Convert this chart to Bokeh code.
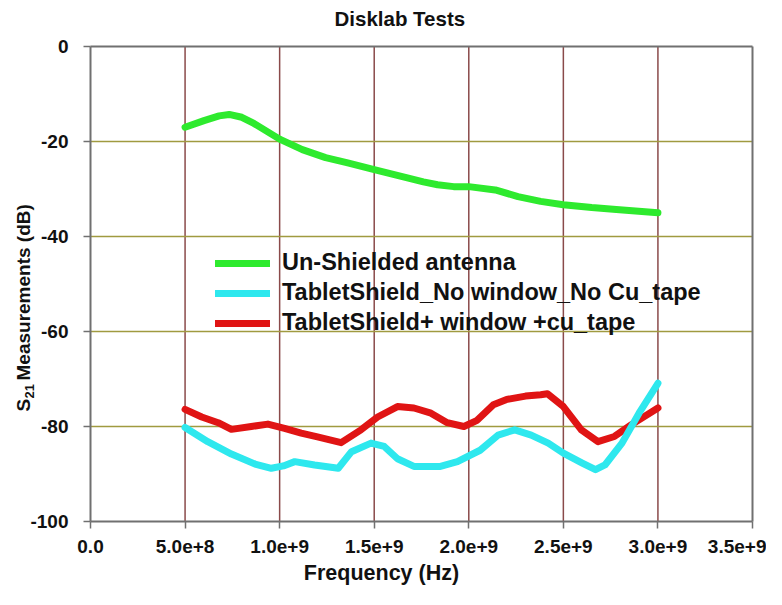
import math
from bokeh.plotting import figure
from bokeh.models import FixedTicker, Legend, LegendItem, Label
from bokeh.embed import file_html
from bokeh.resources import INLINE

# ---- data ----
green_f = [0.5e9, 0.6e9, 0.68e9, 0.733e9, 0.8e9, 0.864e9, 1.0e9, 1.12e9, 1.243e9, 1.36e9,
           1.5e9, 1.67e9, 1.76e9, 1.835e9, 1.92e9, 2.0e9, 2.14e9, 2.26e9, 2.38e9, 2.5e9,
           2.65e9, 2.78e9, 3.0e9]
green_db = [-17.0, -15.6, -14.6, -14.3, -14.9, -16.2, -19.5, -21.7, -23.4, -24.5,
            -25.9, -27.6, -28.5, -29.1, -29.5, -29.5, -30.2, -31.6, -32.6, -33.3,
            -33.9, -34.3, -35.0]

cyan_f = [0.5e9, 0.62e9, 0.745e9, 0.87e9, 0.956e9, 1.02e9, 1.08e9, 1.185e9, 1.31e9, 1.38e9,
          1.483e9, 1.553e9, 1.623e9, 1.71e9, 1.85e9, 1.94e9, 2.06e9, 2.155e9, 2.243e9,
          2.33e9, 2.42e9, 2.5e9, 2.6e9, 2.67e9, 2.72e9, 2.81e9, 2.9e9, 3.0e9]
cyan_db = [-80.2, -83.2, -85.8, -87.9, -88.8, -88.3, -87.4, -88.1, -88.8, -85.3,
           -83.5, -84.2, -86.8, -88.4, -88.4, -87.4, -85.0, -81.8, -80.7,
           -81.8, -83.5, -85.6, -87.7, -89.1, -88.1, -83.5, -77.2, -70.9]

red_f = [0.5e9, 0.588e9, 0.675e9, 0.745e9, 0.85e9, 0.938e9, 1.026e9, 1.114e9, 1.2e9, 1.325e9,
         1.43e9, 1.518e9, 1.623e9, 1.71e9, 1.8e9, 1.886e9, 1.974e9, 2.044e9, 2.13e9,
         2.2e9, 2.3e9, 2.38e9, 2.416e9, 2.5e9, 2.595e9, 2.683e9, 2.77e9, 2.86e9, 3.0e9]
red_db = [-76.4, -78.0, -79.2, -80.6, -80.0, -79.5, -80.4, -81.4, -82.2, -83.4,
          -80.7, -78.0, -75.8, -76.1, -77.2, -79.2, -80.0, -78.7, -75.4,
          -74.3, -73.6, -73.3, -73.1, -75.8, -80.7, -83.2, -82.1, -79.6, -76.1]

series_names = ["Un-Shielded antenna", "TabletShield_No window_No Cu_tape",
                "TabletShield+ window +cu_tape"]
title_text = "Disklab Tests"
x_title = "Frequency (Hz)"

x_ticks = [0, 0.5e9, 1.0e9, 1.5e9, 2.0e9, 2.5e9, 3.0e9, 3.5e9]
x_tick_labels = ["0.0", "5.0e+8", "1.0e+9", "1.5e+9", "2.0e+9", "2.5e+9", "3.0e+9", "3.5e+9"]
y_ticks = [0, -20, -40, -60, -80, -100]
y_tick_labels = ["0", "-20", "-40", "-60", "-80", "-100"]
x_grid = [0.5e9, 1.0e9, 1.5e9, 2.0e9, 2.5e9, 3.0e9]
y_grid = [-20, -40, -60, -80]
X_MIN, X_MAX, Y_MIN, Y_MAX = 0, 3.5e9, -100, 0

FONT = "Liberation Sans"
TXT = "#111111"
AXIS = "#707070"

# The frame fills the whole figure; the plotting area (0..3.5e9, -100..0)
# sits inside it so that all titles can be real text labels.
W, H = 766, 589
PAD_L, PAD_R, PAD_T, PAD_B = 90, 14, 46, 68
x_span = (X_MAX - X_MIN) / (W - PAD_L - PAD_R)
y_span = (Y_MAX - Y_MIN) / (H - PAD_T - PAD_B)
x_range = (X_MIN - PAD_L * x_span, X_MAX + PAD_R * x_span)
y_range = (Y_MIN - PAD_B * y_span, Y_MAX + PAD_T * y_span)

p = figure(width=W, height=H, min_border=0,
           x_range=x_range, y_range=y_range,
           output_backend="svg", toolbar_location=None)

p.outline_line_color = None
p.background_fill_color = "white"
p.border_fill_color = "white"
p.grid.visible = False

# grid lines, only over the plotting area
p.segment(x0=x_grid, y0=[Y_MIN] * len(x_grid), x1=x_grid, y1=[Y_MAX] * len(x_grid),
          line_color="#8a4a4a", line_width=1.5)
p.segment(x0=[X_MIN] * len(y_grid), y0=y_grid, x1=[X_MAX] * len(y_grid), y1=y_grid,
          line_color="#a09a40", line_width=1.5)
# top and right border of the plotting area
p.segment(x0=[X_MIN, X_MAX], y0=[Y_MAX, Y_MIN], x1=[X_MAX, X_MAX], y1=[Y_MAX, Y_MAX],
          line_color=AXIS, line_width=2)

# axes, pinned to the plotting area
p.xaxis.ticker = FixedTicker(ticks=x_ticks)
p.xaxis.major_label_overrides = {t: l for t, l in zip(x_ticks, x_tick_labels)}
p.xaxis.bounds = (X_MIN, X_MAX)
p.xaxis.fixed_location = Y_MIN
p.yaxis.ticker = FixedTicker(ticks=y_ticks)
p.yaxis.major_label_overrides = {t: l for t, l in zip(y_ticks, y_tick_labels)}
p.yaxis.bounds = (Y_MIN, Y_MAX)
p.yaxis.fixed_location = X_MIN
for ax in (p.xaxis[0], p.yaxis[0]):
    ax.axis_line_color = AXIS
    ax.axis_line_width = 2
    ax.major_tick_line_color = AXIS
    ax.major_tick_line_width = 1.5
    ax.major_tick_in = 0
    ax.major_tick_out = 7
    ax.minor_tick_line_color = None
    ax.major_label_text_font = FONT
    ax.major_label_text_font_size = "19px"
    ax.major_label_text_font_style = "bold"
    ax.major_label_text_color = TXT
p.xaxis.major_label_standoff = 11
p.yaxis.major_label_standoff = 15

# texts (frame-relative pixels)
txt = dict(x_units="screen", y_units="screen", text_font=FONT,
           text_font_style="bold", text_color=TXT)
p.add_layout(Label(x=334, y=571, text=title_text, text_font_size="20.5px",
                   text_align="left", text_baseline="alphabetic", **txt))
p.add_layout(Label(x=381, y=17, text=x_title, text_font_size="21.5px",
                   text_align="center", text_baseline="alphabetic", **txt))
rot = dict(angle=math.pi / 2, text_align="left", text_baseline="middle", **txt)
p.add_layout(Label(x=23, y=178, text="S", text_font_size="19px", **rot))
p.add_layout(Label(x=29, y=191, text="21", text_font_size="13px", **rot))
p.add_layout(Label(x=23, y=209, text="Measurements (dB)", text_font_size="19px", **rot))

# curves
g = p.line(green_f, green_db, line_color="#2eea2e", line_width=7, line_join="round", line_cap="round")
r = p.line(red_f, red_db, line_color="#e01414", line_width=7, line_join="round", line_cap="round")
c = p.line(cyan_f, cyan_db, line_color="#2ee8ee", line_width=7, line_join="round", line_cap="round")

legend = Legend(items=[LegendItem(label=series_names[0], renderers=[g]),
                       LegendItem(label=series_names[1], renderers=[c]),
                       LegendItem(label=series_names[2], renderers=[r])],
                location=(209, 247))
legend.background_fill_alpha = 0
legend.border_line_alpha = 0
legend.label_text_font = FONT
legend.label_text_font_size = "23.5px"
legend.label_text_font_style = "bold"
legend.label_text_color = TXT
legend.glyph_width = 55
legend.glyph_height = 22
legend.label_height = 22
legend.spacing = 3
legend.label_standoff = 12
legend.padding = 6
p.add_layout(legend)

open("out.html", "w").write(file_html(p, INLINE))
